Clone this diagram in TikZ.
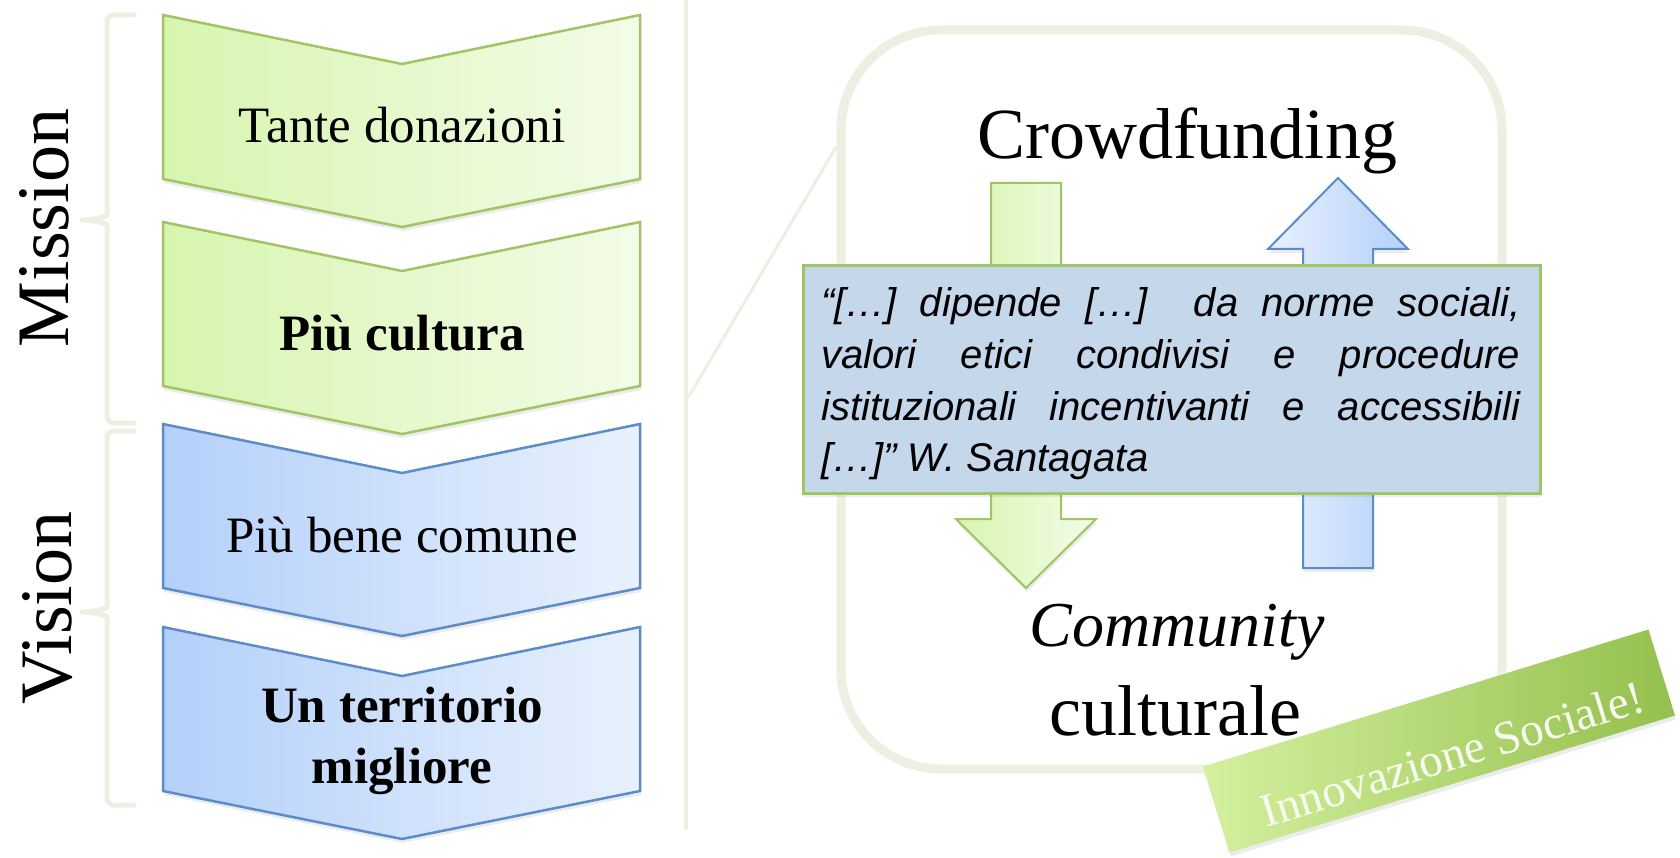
\documentclass[tikz,border=0pt]{standalone}
\usepackage{fontspec}
\setmainfont{Liberation Serif}
\setsansfont{Liberation Sans}
\usetikzlibrary{shadows}
\definecolor{chevgreenA}{RGB}{215,245,175}
\definecolor{chevgreenB}{RGB}{243,252,232}
\definecolor{greenedge}{RGB}{160,196,102}
\definecolor{chevblueA}{RGB}{180,208,250}
\definecolor{chevblueB}{RGB}{232,241,253}
\definecolor{blueedge}{RGB}{92,141,201}
\definecolor{paleframe}{RGB}{236,240,226}
\definecolor{quotefill}{RGB}{197,215,234}
\definecolor{badgeA}{RGB}{212,240,158}
\definecolor{badgeB}{RGB}{148,192,78}
\definecolor{badgetext}{RGB}{248,252,240}
\tikzset{
  softshadow/.style={drop shadow={opacity=0.15, shadow xshift=1pt, shadow yshift=-4pt}},
  chevgreen/.style={draw=greenedge, line width=2.5, left color=chevgreenA, right color=chevgreenB, softshadow},
  chevblue/.style={draw=blueedge, line width=2.5, left color=chevblueA, right color=chevblueB, softshadow},
  chevtext/.style={anchor=base, inner sep=0pt, font=\fontsize{51}{62}\selectfont},
  sidetext/.style={anchor=base, inner sep=0pt, rotate=90, font=\fontsize{74}{80}\selectfont},
  bracket/.style={draw=paleframe, line width=5, line cap=round, line join=round},
  paleline/.style={draw=paleframe, line width=4},
  roundframe/.style={draw=paleframe, line width=9, rounded corners=100},
  arrowgreen/.style={draw=greenedge, line width=2, left color=chevgreenA, right color=chevgreenB, softshadow},
  arrowblue/.style={draw=blueedge, line width=2, left color=chevblueB, right color=chevblueA, softshadow},
  bigtext/.style={anchor=base, inner sep=0pt, font=\fontsize{72}{80}\selectfont},
  quotebox/.style={draw=greenedge, line width=3, fill=quotefill, minimum width=737, minimum height=227, inner sep=0pt, softshadow},
  quotetext/.style={anchor=base west, inner sep=0pt, font=\sffamily\itshape\fontsize{40}{51.5}\selectfont},
  badge/.style={rotate=17.1, minimum width=466, minimum height=90, inner sep=0pt, left color=badgeA, right color=badgeB, softshadow},
  badgelabel/.style={rotate=17.1, inner sep=0pt, text=badgetext, font=\fontsize{47}{52}\selectfont}
}
\begin{document}
\begin{tikzpicture}[x=1pt,y=-1pt]
    \useasboundingbox (0,0) rectangle (1680,858);
    \fill[white] (0,0) rectangle (1680,858);
    \draw[bracket, rounded corners=7] (134,15) -- (107,15) -- (107,208) .. controls (107,216) and (96,220) .. (78,220) .. controls (96,220) and (107,224) .. (107,232) -- (107,423) -- (134,423);
    \draw[bracket, rounded corners=7] (134,431) -- (107,431) -- (107,600) .. controls (107,608) and (96,612) .. (78,612) .. controls (96,612) and (107,616) .. (107,624) -- (107,805) -- (134,805);
    \node[sidetext] (mission) at (68,228) {Mission};
    \node[sidetext] (vision) at (71,608) {Vision};
    \foreach \y/\c in {15/chevgreen,222/chevgreen,424/chevblue,627/chevblue}
        \draw[\c] (163,\y) -- (402,\y+49) -- (640,\y) -- (640,\y+164) -- (402,\y+212) -- (163,\y+164) -- cycle;
    \node[chevtext] (tante) at (402,143) {Tante donazioni};
    \node[chevtext] (cultura) at (402,350) {\bfseries Più cultura};
    \node[chevtext] (bene) at (402,552) {Più bene comune};
    \node[chevtext] (territorio) at (402,722) {\bfseries Un territorio};
    \node[chevtext] (migliore) at (402,783) {\bfseries migliore};
    \draw[paleline] (686,0) -- (686,830);
    \draw[paleline, line width=3] (688,398) -- (836,147);
    \draw[roundframe] (841,30) rectangle (1502,769);
    \node[bigtext] (crowd) at (1187,159) {Crowdfunding};
    \draw[arrowgreen] (991,183) -- (1061,183) -- (1061,519) -- (1096,519) -- (1026,588) -- (956,519) -- (991,519) -- cycle;
    \draw[arrowblue] (1303,568) -- (1303,249) -- (1268,249) -- (1338,178) -- (1408,249) -- (1373,249) -- (1373,568) -- cycle;
    \node[quotebox] (qbox) at (1171.5,379.5) {};
    \node[quotetext] (quote) at (821,317) {\vtop{\hsize=699pt
        \hbox to\hsize{“[…] dipende […]\ \ da norme sociali,}
        \hbox to\hsize{valori etici condivisi e procedure}
        \hbox to\hsize{istituzionali incentivanti e accessibili}
        \hbox to\hsize{[…]” W. Santagata\hfil}}};
    \node[bigtext, font=\itshape\fontsize{64}{80}\selectfont] (community) at (1177,646) {Community};
    \node[bigtext] (culturale) at (1175,735) {culturale};
    \node[badge] (badge) at (1439,741) {};
    \node[badgelabel] (innov) at (1452,754) {Innovazione Sociale!};
\end{tikzpicture}
\end{document}
